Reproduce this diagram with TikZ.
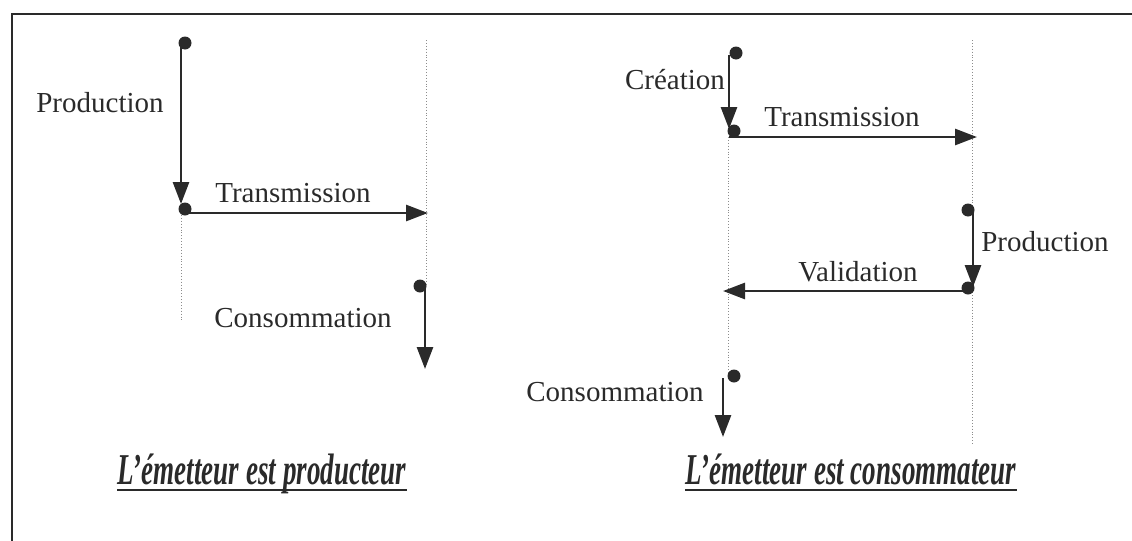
\documentclass[tikz,border=0pt]{standalone}
\usepackage{fontspec}
\setmainfont{Liberation Serif}
\usetikzlibrary{arrows.meta}
\definecolor{ink}{RGB}{42,42,42}
\tikzset{
  msg/.style={line width=1.4pt, draw=ink, -{Triangle[length=11pt,width=8pt]}},
  life/.style={densely dotted, line width=0.45pt, draw=black!45},
  dotm/.style={circle, fill=ink, inner sep=0pt, minimum size=6.5pt},
  lbl/.style={font=\fontsize{14.5}{16}\selectfont, text=ink, inner sep=0pt},
  ttl/.style={font=\fontsize{22}{24}\selectfont\bfseries\itshape, text=ink, inner sep=0pt, anchor=base},
  uline/.style={line width=1pt, draw=ink},
  frame/.style={line width=0.9pt, draw=ink}
}
\begin{document}
\begin{tikzpicture}[x=0.5pt,y=-0.5pt]
\useasboundingbox (0,0) rectangle (1132,541);
% frame
\coordinate (fbl) at (12,541);
\coordinate (ftl) at (12,14);
\coordinate (ftr) at (1132,14);
\draw[frame] (fbl) -- (ftl) -- (ftr);

% ---------- left diagram ----------
\coordinate (LA1) at (181,215); \coordinate (LA2) at (181,322);
\coordinate (LB1) at (426,40);  \coordinate (LB2) at (426,285);
\draw[life] (LA1) -- (LA2);
\draw[life] (LB1) -- (LB2);

\node[dotm] (lpd) at (185,43) {};
\coordinate (lp0) at (181,43); \coordinate (lp1) at (181,204);
\draw[msg] (lp0) -- (lp1);
\node[lbl] (lpl) at (100,103) {Production};

\node[dotm] (ltd) at (185,209) {};
\coordinate (lt0) at (181,213); \coordinate (lt1) at (428,213);
\draw[msg] (lt0) -- (lt1);
\node[lbl] (ltl) at (293,193) {Transmission};

\node[dotm] (lcd) at (420,286) {};
\coordinate (lc0) at (425,286); \coordinate (lc1) at (425,369);
\draw[msg] (lc0) -- (lc1);
\node[lbl] (lcl) at (303,318) {Consommation};

% ---------- right diagram ----------
\coordinate (RA1) at (728,137); \coordinate (RA2) at (728,380);
\coordinate (RB1) at (972,40);  \coordinate (RB2) at (972,445);
\draw[life] (RA1) -- (RA2);
\draw[life] (RB1) -- (RB2);

\node[dotm] (rcd) at (736,53) {};
\coordinate (rc0) at (729,55); \coordinate (rc1) at (729,129);
\draw[msg] (rc0) -- (rc1);
\node[lbl] (rcl) at (675,80) {Création};

\node[dotm] (rtd) at (734,131) {};
\coordinate (rt0) at (729,137); \coordinate (rt1) at (977,137);
\draw[msg] (rt0) -- (rt1);
\node[lbl] (rtl) at (842,117) {Transmission};

\node[dotm] (rpd) at (968,210) {};
\coordinate (rp0) at (973,212); \coordinate (rp1) at (973,287);
\draw[msg] (rp0) -- (rp1);
\node[lbl] (rpl) at (1045,242) {Production};

\node[dotm] (rvd) at (968,288) {};
\coordinate (rv0) at (968,291); \coordinate (rv1) at (723,291);
\draw[msg] (rv0) -- (rv1);
\node[lbl] (rvl) at (858,272) {Validation};

\node[dotm] (rkd) at (734,376) {};
\coordinate (rk0) at (723,378); \coordinate (rk1) at (723,437);
\draw[msg] (rk0) -- (rk1);
\node[lbl] (rkl) at (615,392) {Consommation};

% ---------- titles ----------
\node[ttl] (t1) at (262,484) {\scalebox{0.615}[1]{L’émetteur est producteur}};
\node[ttl] (t2) at (851,484) {\scalebox{0.615}[1]{L’émetteur est consommateur}};
\draw[uline] ([yshift=-3pt]t1.base west) -- ([yshift=-3pt]t1.base east);
\draw[uline] ([yshift=-3pt]t2.base west) -- ([yshift=-3pt]t2.base east);
\end{tikzpicture}
\end{document}
